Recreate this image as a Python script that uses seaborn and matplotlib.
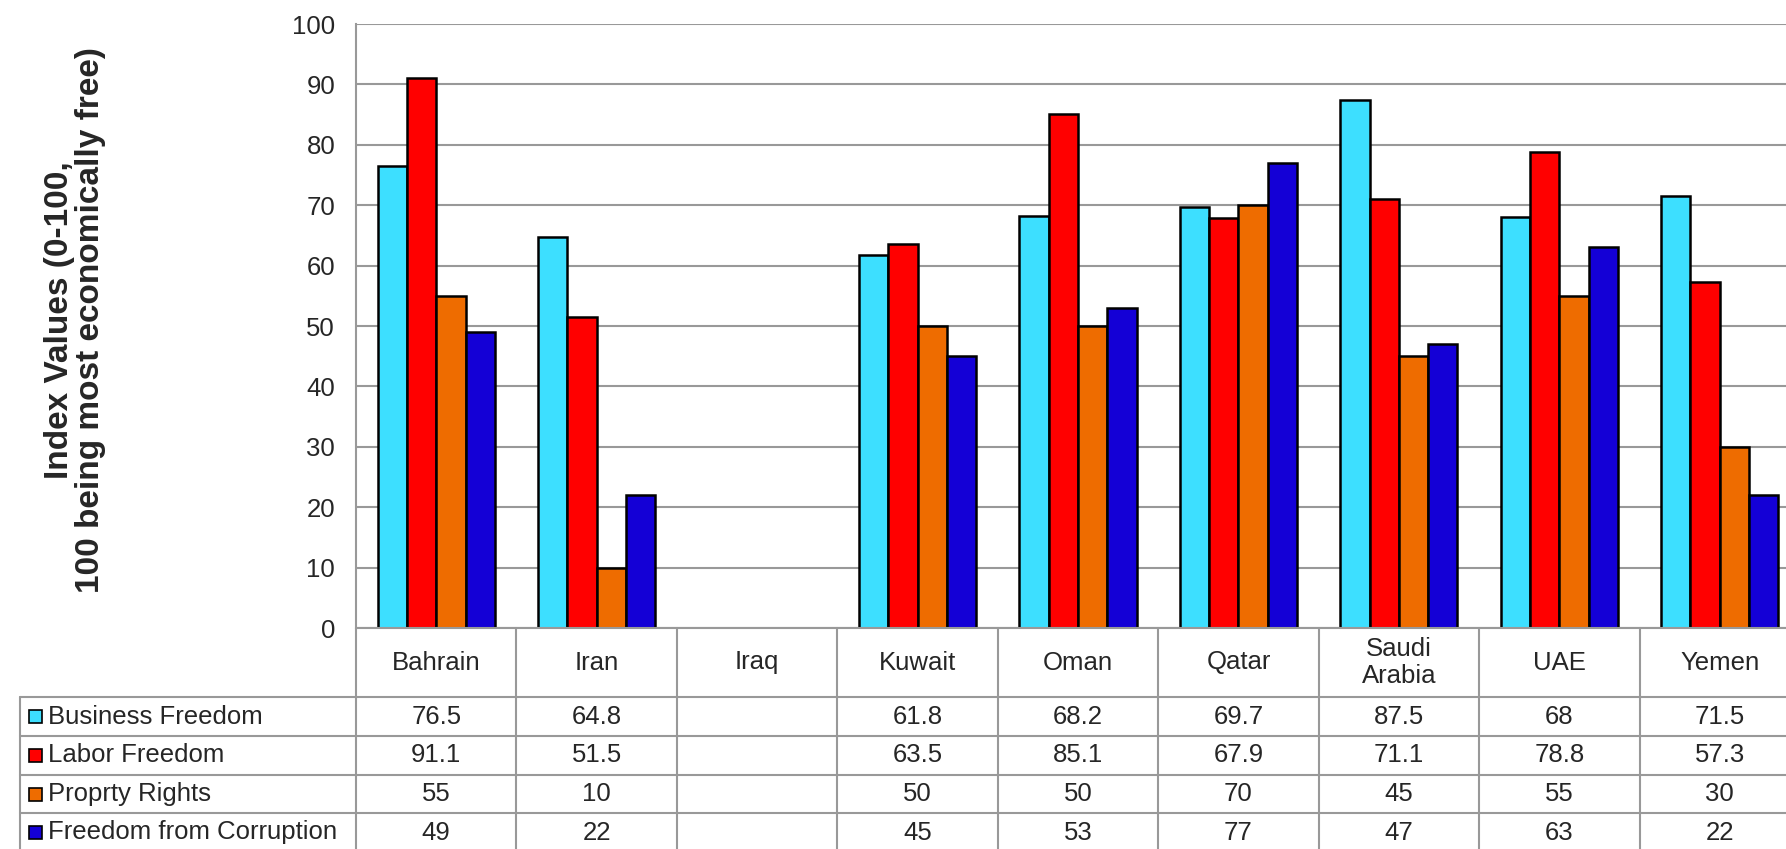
import matplotlib
matplotlib.use("Agg")
import matplotlib.pyplot as plt
import matplotlib.transforms as mtransforms
from matplotlib.lines import Line2D
from matplotlib.patches import Rectangle
import seaborn as sns
import pandas as pd
import numpy as np

# data
countries = ["Bahrain", "Iran", "Iraq", "Kuwait", "Oman", "Qatar", "Saudi Arabia", "UAE", "Yemen"]
country_labels = ["Bahrain", "Iran", "Iraq", "Kuwait", "Oman", "Qatar", "Saudi\nArabia", "UAE", "Yemen"]
series = ["Business Freedom", "Labor Freedom", "Proprty Rights", "Freedom from Corruption"]
business_freedom = [76.5, 64.8, np.nan, 61.8, 68.2, 69.7, 87.5, 68, 71.5]
labor_freedom = [91.1, 51.5, np.nan, 63.5, 85.1, 67.9, 71.1, 78.8, 57.3]
property_rights = [55, 10, np.nan, 50, 50, 70, 45, 55, 30]
freedom_from_corruption = [49, 22, np.nan, 45, 53, 77, 47, 63, 22]
colors = ["#3DDFFF", "#FF0000", "#EE6C00", "#1400D6"]
yticks = list(range(0, 101, 10))

values = [business_freedom, labor_freedom, property_rights, freedom_from_corruption]
df = pd.DataFrame([
    {"country": c, "series": s, "value": v}
    for s, vals in zip(series, values)
    for c, v in zip(countries, vals)
])

sns.set_style("white")
plt.rcParams['font.family'] = ['Liberation Sans', 'DejaVu Sans']

W, H = 1786, 849
fig = plt.figure(figsize=(W / 100, H / 100), dpi=100)

# axes in pixel terms; right edge runs past the figure (cropped like the original)
ax_l, ax_r, ax_t, ax_b = 356, 1800, 24, 628
ax = fig.add_axes([ax_l / W, 1 - ax_b / H, (ax_r - ax_l) / W, (ax_b - ax_t) / H])

sns.barplot(data=df.dropna(), x="country", y="value", hue="series",
            order=countries, hue_order=series, palette=colors, saturation=1,
            width=0.73, gap=0, edgecolor="black", linewidth=1.8,
            errorbar=None, legend=False, ax=ax, zorder=3)

fs = 18.5
grid_c = "#999999"
ax.set_xlim(-0.5, len(countries) - 0.5)
ax.set_ylim(0, 100)
ax.set_yticks(yticks)
ax.set_yticklabels([str(t) for t in yticks], fontsize=fs)
ax.tick_params(axis="y", length=0, pad=15)
ax.set_xticks([])
ax.set_xlabel("")
ax.set_ylabel("")
ax.yaxis.grid(True, color=grid_c, linewidth=1.5, zorder=0)
ax.set_axisbelow(True)
for side in ["top", "right", "bottom"]:
    ax.spines[side].set_visible(False)
ax.spines["left"].set_color(grid_c)
ax.spines["left"].set_linewidth(1.5)

fig.text(75 / W, 1 - 320 / H, "Index Values (0-100,\n100 being most economically free)",
         rotation=90, ha="center", va="center", fontsize=24, fontweight="bold",
         linespacing=0.97)

# data table under the chart
blend = mtransforms.blended_transform_factory(ax.transData, fig.transFigure)
fy = lambda px: 1 - px / H
fx = lambda px: px / W
row_edges = [628, 697, 736, 775, 813, 852]
leg_left = 20

def hline(y, x0, x1):
    fig.add_artist(Line2D([fx(x0), fx(x1)], [fy(y), fy(y)], color=grid_c, lw=1.5,
                          transform=fig.transFigure, clip_on=False))

hline(row_edges[0], ax_l, ax_r)
for y in row_edges[1:-1]:
    hline(y, leg_left, ax_r)
fig.add_artist(Line2D([fx(leg_left)] * 2, [fy(row_edges[1]), fy(row_edges[-1])],
                      color=grid_c, lw=1.5, transform=fig.transFigure))
for i in range(len(countries) + 1):
    fig.add_artist(Line2D([i - 0.5] * 2, [fy(row_edges[0]), fy(row_edges[-1])],
                          color=grid_c, lw=1.5, transform=blend, clip_on=False))

yc = lambda r: fy((row_edges[r] + row_edges[r + 1]) / 2)
for i, lab in enumerate(country_labels):
    fig.text(i, yc(0), lab, transform=blend, ha="center", va="center",
             fontsize=fs, linespacing=1.2)

for r, (name, vals, col) in enumerate(zip(series, values, colors), start=1):
    sq = 13
    fig.add_artist(Rectangle((fx(29), yc(r) - sq / 2 / H), sq / W, sq / H,
                             facecolor=col, edgecolor="black", lw=1.2,
                             transform=fig.transFigure))
    fig.text(fx(48), yc(r), name, ha="left", va="center", fontsize=fs)
    for i, v in enumerate(vals):
        if not np.isnan(v):
            fig.text(i, yc(r), f"{v:g}", transform=blend, ha="center",
                     va="center", fontsize=fs)

fig.savefig("out.png", dpi=100)
